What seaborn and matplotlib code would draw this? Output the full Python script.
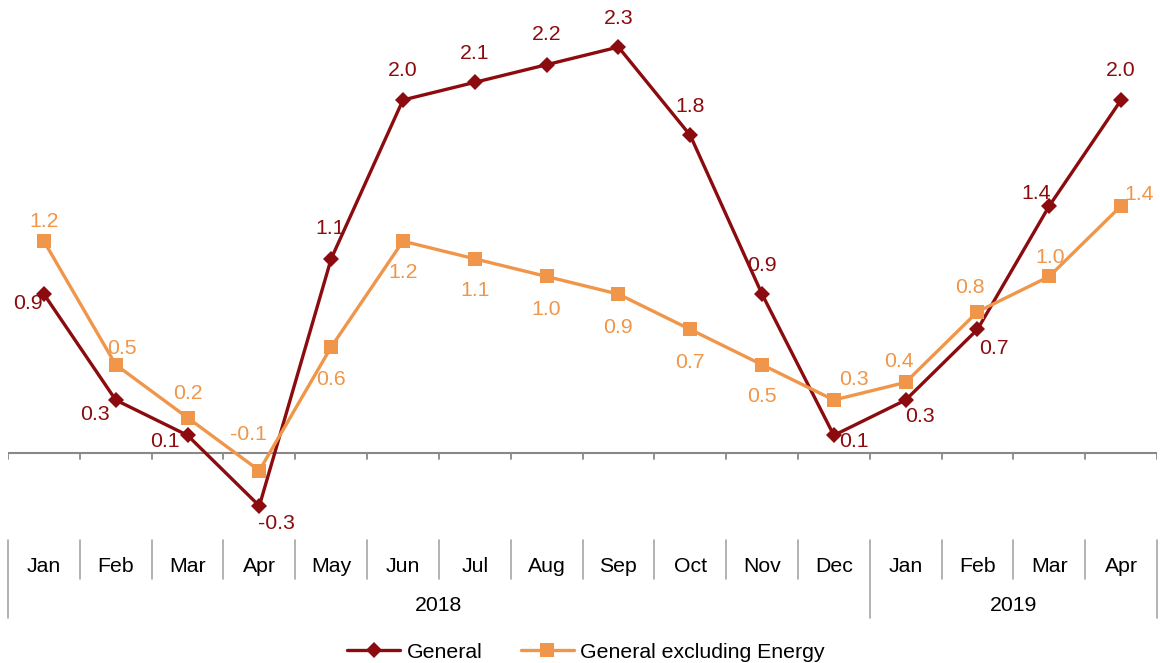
import numpy as np
import pandas as pd
import matplotlib.pyplot as plt
import seaborn as sns

# 1. Data ---------------------------------------------------------------
months = ["Jan", "Feb", "Mar", "Apr", "May", "Jun", "Jul", "Aug",
          "Sep", "Oct", "Nov", "Dec", "Jan", "Feb", "Mar", "Apr"]
years = ["2018"] * 12 + ["2019"] * 4

general = [0.9, 0.3, 0.1, -0.3, 1.1, 2.0, 2.1, 2.2, 2.3, 1.8, 0.9, 0.1,
           0.3, 0.7, 1.4, 2.0]
general_ex_energy = [1.2, 0.5, 0.2, -0.1, 0.6, 1.2, 1.1, 1.0, 0.9, 0.7, 0.5,
                     0.3, 0.4, 0.8, 1.0, 1.4]

# label offsets in pixels (dx, dy)
general_offsets = [(-16, -9), (-21, -14), (-23, -6), (17, -18), (-1, 30),
                   (0, 29), (0, 29), (0, 30), (0, 29), (0, 29), (0, 29),
                   (20, -6), (14, -16), (16, -19), (-13, 12), (0, 29)]
ex_offsets = [(0, 20), (6, 16), (0, 24), (-11, 36), (0, -32), (0, -31),
              (0, -32), (0, -33), (0, -33), (0, -33), (0, -32), (20, 21),
              (-7, 21), (-8, 24), (1, 19), (18, 11)]

df = pd.DataFrame({
    "pos": np.arange(len(months)),
    "General": general,
    "General excluding Energy": general_ex_energy,
})

# 2. Plotting -----------------------------------------------------------
sns.set_style("white")
plt.rcParams["font.family"] = ["Liberation Sans", "DejaVu Sans"]

red = "#8B0B0E"
orange = "#F0964A"
grey = "#888888"
fs = 15.3

fig = plt.figure(figsize=(11.6, 6.63), dpi=100)
ax = fig.add_axes([8 / 1160, 0.197, 1149 / 1160, 0.7986])

sns.lineplot(data=df, x="pos", y="General", ax=ax, color=red, lw=2.4,
             marker="D", markersize=8, markeredgewidth=0, label="General")
sns.lineplot(data=df, x="pos", y="General excluding Energy", ax=ax,
             color=orange, lw=2.4, marker="s", markersize=10,
             markeredgewidth=0, label="General excluding Energy")

ax.set_xlim(-0.5, len(months) - 0.5)
ax.set_ylim(-0.45, 2.55)
for s in ax.spines.values():
    s.set_visible(False)
ax.set_xticks([])
ax.set_yticks([])
ax.set_xlabel("")
ax.set_ylabel("")

# zero line with tick marks
ax.axhline(0, color=grey, lw=1.5, zorder=1)
tick_len = 6 / 176.5
for b in np.arange(-0.5, len(months), 1.0):
    ax.plot([b, b], [0, -tick_len], color=grey, lw=1.3, zorder=1)

# data labels
for i, (v, o) in enumerate(zip(general, general_offsets)):
    ax.annotate(f"{v:.1f}", (i, v), xytext=o, textcoords="offset pixels",
                ha="center", va="center", color=red, fontsize=fs)
for i, (v, o) in enumerate(zip(general_ex_energy, ex_offsets)):
    ax.annotate(f"{v:.1f}", (i, v), xytext=o, textcoords="offset pixels",
                ha="center", va="center", color=orange, fontsize=fs)

# category table below the chart
def py(p):
    return (453 - p) / 176.5

sep_col = "#A6A6A6"
for i in range(len(months) + 1):
    b = i - 0.5
    year_edge = i == 0 or i == len(months) or years[i] != years[i - 1]
    bottom = py(618) if year_edge else py(579)
    ax.plot([b, b], [py(540), bottom], color=sep_col, lw=1.2, clip_on=False)

for i, m in enumerate(months):
    ax.text(i, py(567), m, ha="center", va="center", fontsize=fs,
            color="black", clip_on=False)

for y in dict.fromkeys(years):
    idx = [i for i, yy in enumerate(years) if yy == y]
    ax.text((idx[0] + idx[-1]) / 2, py(606), y, ha="center", va="center",
            fontsize=fs, color="black", clip_on=False)

ax.legend(loc="center", bbox_to_anchor=(586 / 1160, 0.016),
          bbox_transform=fig.transFigure, ncol=2, frameon=False,
          fontsize=fs, labelcolor="black", handlelength=2.5,
          handletextpad=0.3, columnspacing=1.8)

plt.savefig("out.png", dpi=100)
